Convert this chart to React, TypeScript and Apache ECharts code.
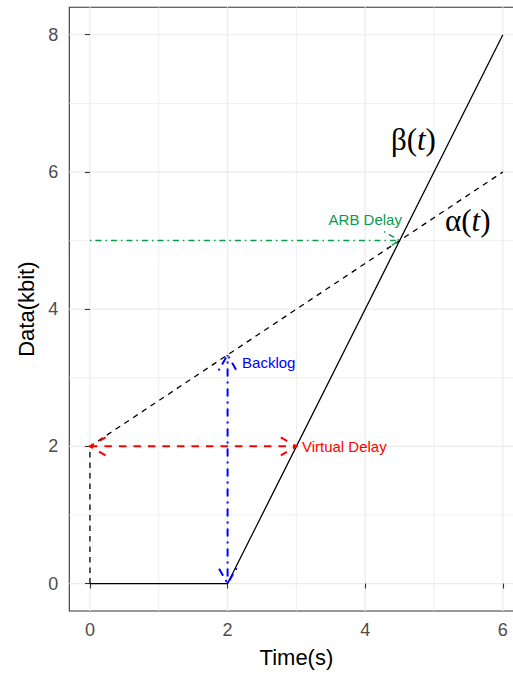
import React, { useEffect, useRef } from "react";
import * as echarts from "echarts";

// ---- data ----
const xMajor = [0, 2, 4, 6];
const xMinor = [1, 3, 5];
const yMajor = [0, 2, 4, 6, 8];
const yMinor = [1, 3, 5, 7];

const betaX = [0, 2, 6];
const betaY = [0, 0, 8];
const alphaX = [0, 0, 6];
const alphaY = [0, 2, 6];

const virtualDelayX = [0, 3];
const virtualDelayY = [2, 2];
const backlogX = [2, 2];
const backlogY = [0, 3.333];
const arbDelayX = [0, 4.5];
const arbDelayY = [5, 5];

const annTexts = ["ARB Delay", "Virtual Delay", "Backlog"];
const annX = [4.0, 3.08, 2.21];
const annY = [5.3, 2.0, 3.22];

const greekX = [4.7, 5.49];
const greekY = [6.48, 5.29];

const SANS = "Liberation Sans, Arial, Helvetica, sans-serif";
const SERIF = "Liberation Serif, Times New Roman, serif";

function gridSeries(values: number[], dir: number, width: number) {
  return {
    type: "custom",
    silent: true,
    z: 0,
    data: values.map((v) => [v, dir]),
    encode: dir === 0 ? { x: 0 } : { y: 0 },
    renderItem: (params: any, api: any) => {
      const cs = params.coordSys;
      const v = api.value(0);
      if (api.value(1) === 0) {
        const p = api.coord([v, 0]);
        return {
          type: "line",
          shape: { x1: p[0], y1: cs.y, x2: p[0], y2: cs.y + cs.height },
          style: { stroke: "#EBEBEB", lineWidth: width },
        };
      }
      const p = api.coord([0, v]);
      return {
        type: "line",
        shape: { x1: cs.x, y1: p[1], x2: cs.x + cs.width, y2: p[1] },
        style: { stroke: "#EBEBEB", lineWidth: width },
      };
    },
  };
}

function arrowSeries(
  xs: number[],
  ys: number[],
  color: string,
  width: number,
  dash: number[],
  headStart: boolean,
  headEnd: boolean
) {
  const L = 18;
  const ang = Math.PI / 6;
  return {
    type: "custom",
    silent: true,
    z: 3,
    data: [[xs[0], ys[0], xs[1], ys[1]]],
    encode: { x: [0, 2], y: [1, 3] },
    renderItem: (params: any, api: any) => {
      const p1 = api.coord([api.value(0), api.value(1)]);
      const p2 = api.coord([api.value(2), api.value(3)]);
      const style = { stroke: color, lineWidth: width, lineDash: dash, fill: null };
      const children: any[] = [
        { type: "line", shape: { x1: p1[0], y1: p1[1], x2: p2[0], y2: p2[1] }, style },
      ];
      const head = (tip: number[], from: number[]) => {
        const th = Math.atan2(tip[1] - from[1], tip[0] - from[0]);
        const a1 = [tip[0] - L * Math.cos(th + ang), tip[1] - L * Math.sin(th + ang)];
        const a2 = [tip[0] - L * Math.cos(th - ang), tip[1] - L * Math.sin(th - ang)];
        children.push({ type: "polyline", shape: { points: [a1, tip, a2] }, style });
      };
      if (headEnd) head(p2, p1);
      if (headStart) head(p1, p2);
      return { type: "group", children };
    },
  };
}

const annColors = ["#0A9A4E", "#FF0000", "#0000FF"];
const annAlign = ["center", "left", "left"];

export default function App() {
  const ref = useRef<HTMLDivElement>(null);
  useEffect(() => {
    if (!ref.current) return;
    const chart = echarts.init(ref.current, undefined, { renderer: "svg" });
    const option: any = {
      animation: false,
      backgroundColor: "#FFFFFF",
      grid: {
        left: 69.3,
        top: 7.3,
        right: 0.5,
        bottom: 61.3,
        show: true,
        backgroundColor: "#FFFFFF",
        borderColor: "#333333",
        borderWidth: 1.1,
        containLabel: false,
      },
      xAxis: {
        type: "value",
        min: -0.3,
        max: 6.3,
        name: "Time(s)",
        nameLocation: "middle",
        nameGap: 35,
        nameTextStyle: { fontSize: 22, color: "#000000", fontFamily: SANS },
        axisLine: { show: false },
        splitLine: { show: false },
        axisTick: { show: true, length: 5, customValues: xMajor, lineStyle: { color: "#333333", width: 1.1 } },
        axisLabel: {
          customValues: xMajor,
          margin: 10,
          fontSize: 18,
          color: "#4D4D4D",
          fontFamily: SANS,
        },
      },
      yAxis: {
        type: "value",
        min: -0.4,
        max: 8.4,
        name: "Data(kbit)",
        nameLocation: "middle",
        nameGap: 27,
        nameTextStyle: { fontSize: 22, color: "#000000", fontFamily: SANS },
        axisLine: { show: false },
        splitLine: { show: false },
        axisTick: { show: true, length: 5, customValues: yMajor, lineStyle: { color: "#333333", width: 1.1 } },
        axisLabel: {
          customValues: yMajor,
          margin: 11,
          fontSize: 18,
          color: "#4D4D4D",
          fontFamily: SANS,
        },
      },
      series: [
        gridSeries(xMinor, 0, 0.8),
        gridSeries(yMinor, 1, 0.8),
        gridSeries(xMajor, 0, 1.2),
        gridSeries(yMajor, 1, 1.2),
        {
          type: "line",
          z: 2,
          data: betaX.map((x, i) => [x, betaY[i]]),
          symbol: "none",
          lineStyle: { color: "#000000", width: 1.3, type: "solid" },
        },
        {
          type: "line",
          z: 2,
          data: alphaX.map((x, i) => [x, alphaY[i]]),
          symbol: "none",
          lineStyle: { color: "#000000", width: 1.3, type: [5.5, 5] },
        },
        arrowSeries(virtualDelayX, virtualDelayY, "#FF0000", 2, [7.5, 7], true, true),
        arrowSeries(backlogX, backlogY, "#0000FF", 2, [2, 5, 8, 5], true, true),
        arrowSeries(arbDelayX, arbDelayY, "#0A9A4E", 1.5, [1.5, 4, 6, 4], false, true),
        {
          type: "custom",
          silent: true,
          z: 4,
          data: annX.map((x, i) => [x, annY[i], i]),
          encode: { x: 0, y: 1 },
          renderItem: (params: any, api: any) => {
            const i = api.value(2);
            const p = api.coord([api.value(0), api.value(1)]);
            return {
              type: "text",
              x: p[0],
              y: p[1],
              style: {
                text: annTexts[i],
                fill: annColors[i],
                fontSize: 15,
                fontFamily: SANS,
                align: annAlign[i],
                verticalAlign: "middle",
              },
            };
          },
        },
        {
          type: "custom",
          silent: true,
          z: 4,
          data: greekX.map((x, i) => [x, greekY[i], i]),
          encode: { x: 0, y: 1 },
          renderItem: (params: any, api: any) => {
            const i = api.value(2);
            const p = api.coord([api.value(0), api.value(1)]);
            const g = i === 0 ? "β" : "α";
            return {
              type: "text",
              x: p[0],
              y: p[1],
              style: {
                text: "{g|" + g + "}{p|(}{t|t}{p|)}",
                align: "center",
                verticalAlign: "middle",
                rich: {
                  g: { fontSize: 31, fontFamily: SERIF, fill: "#000" },
                  p: { fontSize: 31, fontFamily: SERIF, fill: "#000" },
                  t: { fontSize: 31, fontFamily: SERIF, fontStyle: "italic", fill: "#000" },
                },
              },
            };
          },
        },
      ],
    };
    chart.setOption(option);
    return () => chart.dispose();
  }, []);
  return (
    <div style={{ position: "fixed", left: 0, top: 0, width: 513, height: 673, overflow: "hidden" }}>
      <div ref={ref} style={{ width: 524, height: 673 }} />
    </div>
  );
}
